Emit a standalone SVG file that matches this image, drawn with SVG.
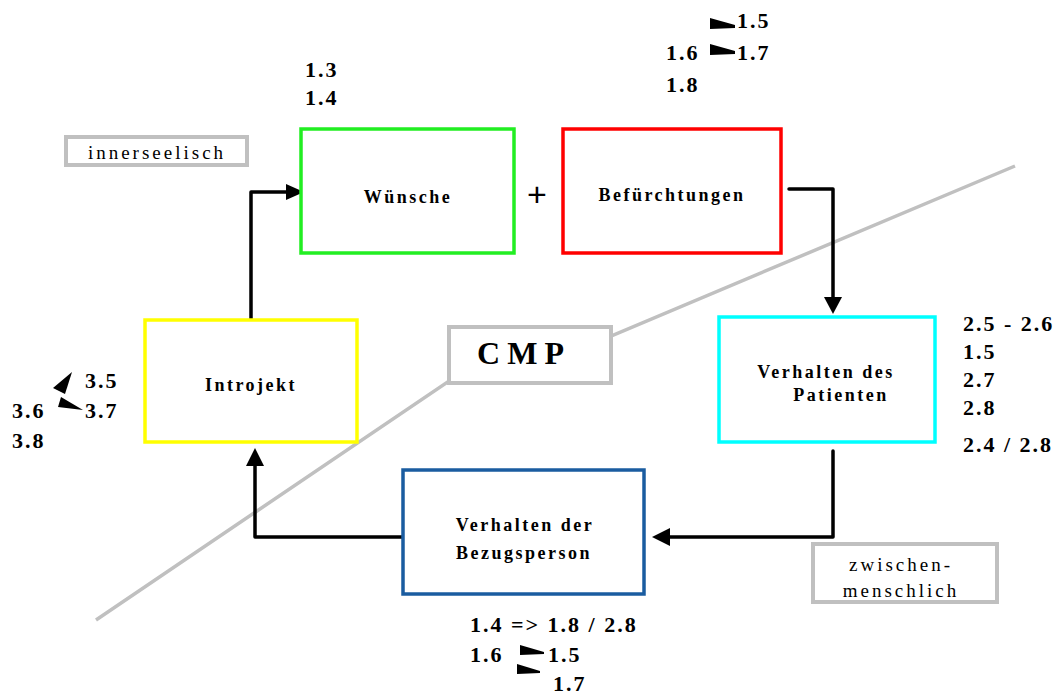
<svg xmlns="http://www.w3.org/2000/svg" width="1062" height="695" viewBox="0 0 1062 695">
  <style>
    .box { fill: #ffffff; stroke-width: 3.5; }
    .tag { fill: #ffffff; stroke: #c0c0c0; stroke-width: 4; }
    .lbl { font-family: "Liberation Serif", "Times New Roman", serif; font-weight: bold; font-size: 18px; letter-spacing: 2.5px; fill: #000; text-anchor: middle; }
    .num { font-family: "Liberation Serif", "Times New Roman", serif; font-weight: bold; font-size: 22px; letter-spacing: 2px; fill: #000; }
    .thin { font-family: "Liberation Serif", "Times New Roman", serif; font-size: 19px; letter-spacing: 3px; fill: #000; text-anchor: middle; }
    .conn { fill: none; stroke: #000; stroke-width: 3.5; stroke-linejoin: round; stroke-linecap: round; }
    .head { fill: #000; }
  </style>

  <!-- dividing line between inner and interpersonal side -->
  <polyline points="96,620 449,381 611,336 1015,166" fill="none" stroke="#c0c0c0" stroke-width="3.5"/>

  <g id="cmp">
    <rect class="tag" x="449" y="327" width="162" height="56" stroke-width="5"/>
    <text x="524" y="364" font-family="Liberation Serif, Times New Roman, serif" font-weight="bold" font-size="32" letter-spacing="7" text-anchor="middle">CMP</text>
  </g>

  <g id="innerseelisch">
    <rect class="tag" x="66" y="137" width="181" height="28"/>
    <text class="thin" x="157" y="159">innerseelisch</text>
  </g>

  <g id="zwischenmenschlich">
    <rect class="tag" x="813" y="544" width="184" height="58"/>
    <text class="thin" x="901" y="571">zwischen-</text>
    <text class="thin" x="901" y="597">menschlich</text>
  </g>

  <!-- connectors -->
  <g id="connectors">
    <path class="conn" d="M251,320 V192 H288"/>
    <polygon class="head" points="286,184 304,192 286,200"/>
    <path class="conn" d="M789,189 H833 V298"/>
    <polygon class="head" points="824,297 833,314 842,297"/>
    <path class="conn" d="M833,451 V537 H668"/>
    <polygon class="head" points="670,528 652,537 670,546"/>
    <path class="conn" d="M402,537 H255 V466"/>
    <polygon class="head" points="246,466 255,448 264,466"/>
  </g>

  <g id="wuensche">
    <rect class="box" x="301" y="129" width="213" height="124" stroke="#22ee22"/>
    <text class="lbl" x="408" y="203" letter-spacing="3.5">Wünsche</text>
  </g>

  <text x="537" y="206" font-family="Liberation Sans, Arial, sans-serif" font-size="34" text-anchor="middle">+</text>

  <g id="befuerchtungen">
    <rect class="box" x="563" y="129" width="218" height="124" stroke="#ff0000"/>
    <text class="lbl" x="672" y="201">Befürchtungen</text>
  </g>

  <g id="patient">
    <rect class="box" x="719" y="317" width="216" height="125" stroke="#00ffff"/>
    <text class="lbl" x="826" y="378">Verhalten des</text>
    <text class="lbl" x="841" y="401">Patienten</text>
  </g>

  <g id="bezugsperson">
    <rect class="box" x="403" y="470" width="241" height="124" stroke="#1a5ca0"/>
    <text class="lbl" x="525" y="531">Verhalten der</text>
    <text class="lbl" x="524" y="559">Bezugsperson</text>
  </g>

  <g id="introjekt">
    <rect class="box" x="145" y="320" width="212" height="122" stroke="#ffff00"/>
    <text class="lbl" x="251" y="391">Introjekt</text>
  </g>

  <!-- numbered references -->
  <g id="refs-wuensche">
    <text class="num" x="305" y="77">1.3</text>
    <text class="num" x="305" y="105">1.4</text>
  </g>

  <g id="refs-befuerchtungen">
    <polygon class="head" points="710,18 735,25 735,28 710,29"/>
    <text class="num" x="737" y="28">1.5</text>
    <text class="num" x="666" y="60">1.6</text>
    <polygon class="head" points="710,44 735,51 735,54 710,55"/>
    <text class="num" x="737" y="60">1.7</text>
    <text class="num" x="666" y="92">1.8</text>
  </g>

  <g id="refs-patient">
    <text class="num" x="963" y="331">2.5 - 2.6</text>
    <text class="num" x="963" y="359">1.5</text>
    <text class="num" x="963" y="387">2.7</text>
    <text class="num" x="963" y="415">2.8</text>
    <text class="num" x="963" y="452">2.4 / 2.8</text>
  </g>

  <g id="refs-introjekt">
    <polygon class="head" points="72,372 53,388 65,394"/>
    <text class="num" x="85" y="388">3.5</text>
    <text class="num" x="12" y="418">3.6</text>
    <polygon class="head" points="61,397 58,407 83,410"/>
    <text class="num" x="85" y="418">3.7</text>
    <text class="num" x="12" y="448">3.8</text>
  </g>

  <g id="refs-bezugsperson">
    <text class="num" x="470" y="632">1.4 =&gt; 1.8 / 2.8</text>
    <text class="num" x="470" y="662">1.6</text>
    <polygon class="head" points="520,645 544,652 544,654 520,655"/>
    <text class="num" x="548" y="662">1.5</text>
    <polygon class="head" points="517,664 540,671 540,673 517,674"/>
    <text class="num" x="553" y="691">1.7</text>
  </g>
</svg>
